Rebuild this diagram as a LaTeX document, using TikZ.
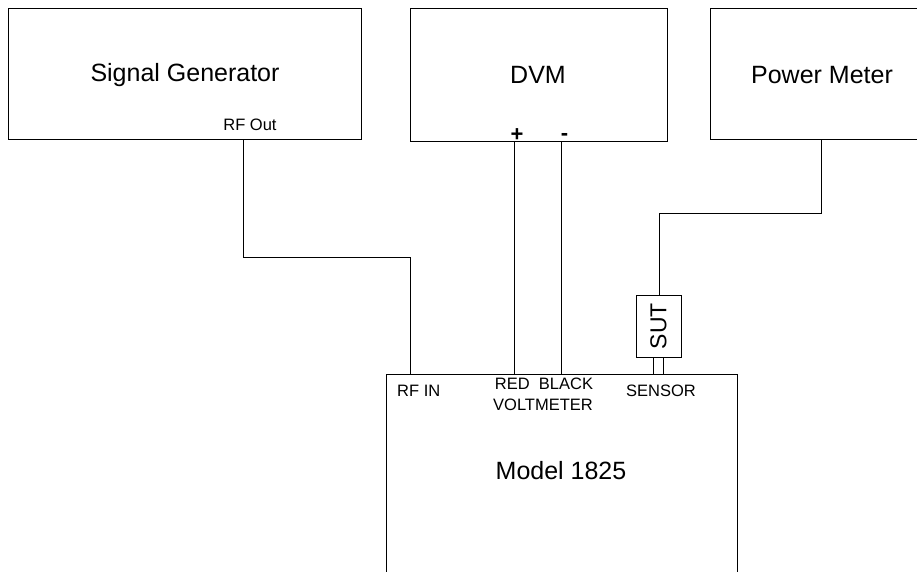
\documentclass[tikz,border=0pt]{standalone}
\usepackage{fontspec}
\setmainfont{Liberation Sans}
\begin{document}
\begin{tikzpicture}[x=1pt,y=-1pt,
  box/.style={draw, line width=0.9pt, inner sep=0pt},
  wire/.style={draw, line width=0.9pt},
  big/.style={font=\fontsize{25}{27}\selectfont, inner sep=0pt},
  small/.style={font=\fontsize{16.5}{18}\selectfont, inner sep=0pt}]
\useasboundingbox (0,0) rectangle (917,571);
\clip (0,0) rectangle (917,571);
% boxes
\path[box] (8,8) rectangle (361,139);
\path[box] (410,8) rectangle (667,141);
\path[box] (710,8) rectangle (930,139);
\path[box] (386,374) rectangle (737,600);
\path[box] (636,295) rectangle (681,357);
% labels
\node[big] (sgl) at (185,75) {Signal Generator};
\node[big] (dvml) at (538,75) {DVM};
\node[big] (pml) at (822,75) {Power Meter};
\node[big] (ml) at (561,471) {Model 1825};
\node[small] (rfo) at (250,125) {RF Out};
\node[font=\fontsize{22}{24}\selectfont\bfseries, inner sep=0pt] (plus) at (517,135) {+};
\node[font=\fontsize{22}{24}\selectfont\bfseries, inner sep=0pt] (minus) at (564.5,137) {-};
\node[small, anchor=west] (rfin) at (397,391) {RF IN};
\node[small] (rb) at (544,384) {RED\ \ BLACK};
\node[small] (vm) at (543,405) {VOLTMETER};
\node[small] (sen) at (661,391) {SENSOR};
\node[font=\fontsize{23}{25}\selectfont, inner sep=0pt, rotate=90] (sut) at (658.5,326) {SUT};
% coordinates
\coordinate (rfa) at (243,139);
\coordinate (rfb) at (410,374);
\coordinate (pa) at (514,141);
\coordinate (pb) at (514,374);
\coordinate (ma) at (561,141);
\coordinate (mb) at (561,374);
\coordinate (pma) at (821,139);
\coordinate (suttop) at (659,295);
% wires
\draw[wire] (rfa) -- (243,257) -- (410,257) -- (rfb);
\draw[wire] (pa) -- (pb);
\draw[wire] (ma) -- (mb);
\draw[wire] (pma) -- (821,213) -- (659,213) -- (suttop);
\draw[wire] (653,357) -- (653,374);
\draw[wire] (663,357) -- (663,374);
\end{tikzpicture}
\end{document}
